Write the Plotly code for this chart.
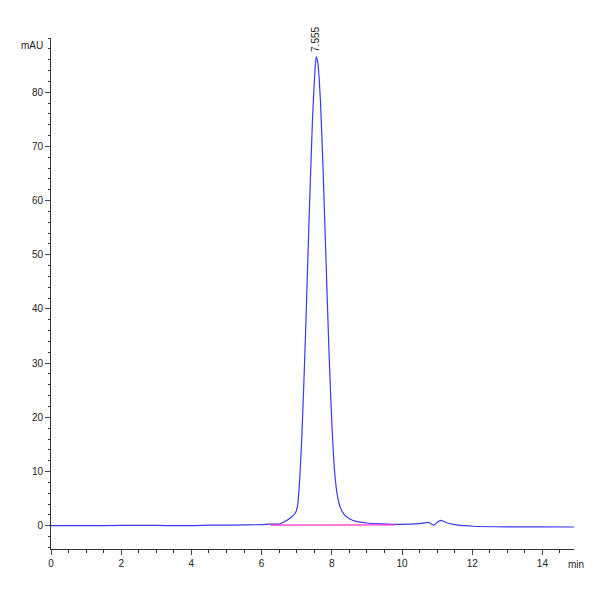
import plotly.graph_objects as go

times = [0, 1, 2, 3, 4, 4.5, 5, 5.5, 6.0, 6.2, 6.5, 6.7, 6.85, 6.95, 7.02, 7.08, 7.15, 7.25, 7.35, 7.45, 7.52, 7.555, 7.6, 7.68, 7.76, 7.84, 7.92, 8.0, 8.08, 8.16, 8.25, 8.35, 8.5, 8.7, 9.0, 9.4, 10.0, 10.5, 10.75, 10.9, 11.0, 11.1, 11.25, 11.5, 11.8, 12.0, 13.0, 14.0, 15.0]
absorb = [0.0, 0.0, 0.05, 0.05, 0.0, 0.1, 0.1, 0.15, 0.2, 0.3, 0.3, 0.9, 1.6, 2.2, 3.5, 8, 17, 35, 56, 75, 84, 86.5, 85.5, 78, 64, 48, 32, 19, 10, 5.5, 3.2, 2.1, 1.3, 0.8, 0.5, 0.35, 0.25, 0.4, 0.6, 0.1, 0.6, 1.0, 0.6, 0.2, 0.0, -0.1, -0.2, -0.2, -0.25]
base_t = [6.25, 9.8]
base_y = [0.1, 0.15]
peak_rt = 7.555
peak_h = 86.5

fig = go.Figure()
fig.add_trace(go.Scatter(x=times, y=absorb, mode="lines", line=dict(color="#3a3aee", width=1.2, shape="spline", smoothing=0.6)))
fig.add_trace(go.Scatter(x=base_t, y=base_y, mode="lines", line=dict(color="#ff33cc", width=1.2)))
fig.add_annotation(x=peak_rt, y=peak_h + 0.5, text=f"{peak_rt:.3f}", textangle=-90, showarrow=False,
                   yanchor="bottom", font=dict(size=10, color="#222"))
fig.add_annotation(x=0, y=1.0, xref="paper", yref="paper", text="mAU", showarrow=False, xanchor="right", xshift=-6,
                   font=dict(size=10, color="#222"))
fig.add_annotation(x=1.0, y=0, xref="paper", yref="paper", text="min", showarrow=False, xanchor="left", yanchor="top", xshift=-8, yshift=-8,
                   font=dict(size=10, color="#222"))
fig.update_layout(width=600, height=600, plot_bgcolor="white", paper_bgcolor="white", showlegend=False,
                  margin=dict(l=43, r=34, t=30, b=59, autoexpand=False), font=dict(family="Liberation Sans Narrow, Arial", size=10, color="#222"))
fig.update_xaxes(range=[0, 14.9], tickvals=[0, 2, 4, 6, 8, 10, 12, 14], ticks="outside", ticklen=5, showline=True,
                 linecolor="#333", showgrid=False, zeroline=False, minor=dict(dtick=0.5, ticks="outside", ticklen=3, tickcolor="#333"))
fig.update_yaxes(range=[-4.3, 90], tickvals=[0, 10, 20, 30, 40, 50, 60, 70, 80], ticks="outside", ticklen=5, showline=True,
                 linecolor="#333", showgrid=False, zeroline=False, minor=dict(dtick=2, ticks="outside", ticklen=2, tickcolor="#333"))
fig.write_html("out.html")
